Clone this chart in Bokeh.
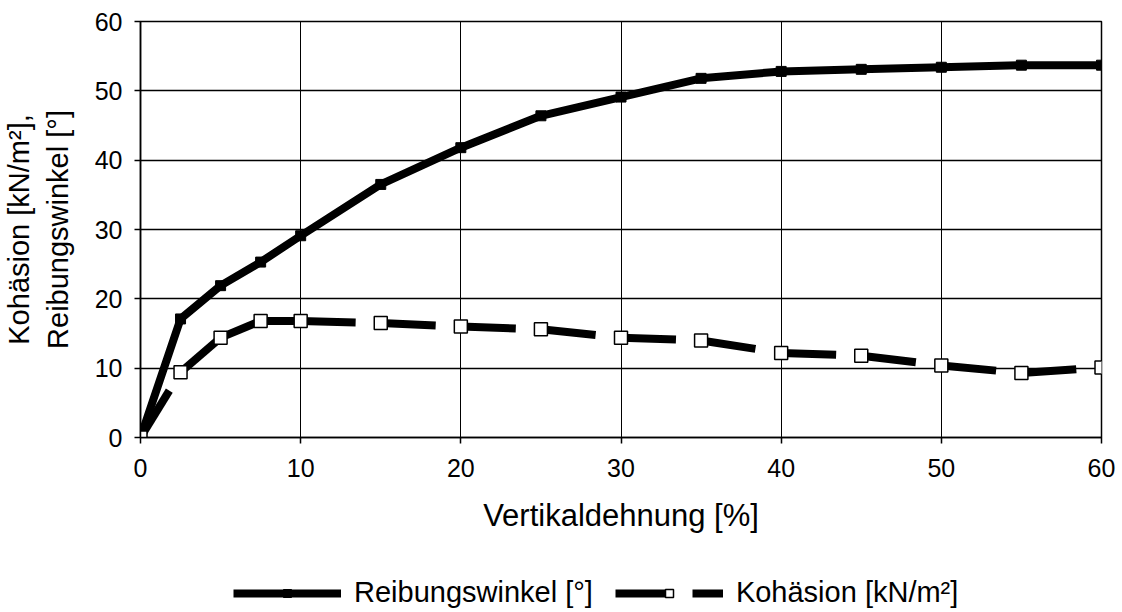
from bokeh.plotting import figure
from bokeh.layouts import column
from bokeh.models import Range1d, Legend, LegendItem, SingleIntervalTicker
from bokeh.embed import file_html
from bokeh.resources import INLINE

# Vertical strain [%] at each test stage
dehnung = [0, 2.5, 5, 7.5, 10, 15, 20, 25, 30, 35, 40, 45, 50, 55, 60]
# Friction angle [°]
reibungswinkel = [0, 17.1, 21.9, 25.3, 29.1, 36.5, 41.8, 46.4, 49.1, 51.8, 52.8, 53.1, 53.4, 53.7, 53.7]
# Cohesion [kN/m²]
kohaesion = [0, 9.4, 14.4, 16.8, 16.8, 16.5, 16.0, 15.6, 14.4, 14.0, 12.2, 11.8, 10.4, 9.3, 10.1]

FONT = "Liberation Sans"

R_STYLE = dict(line_color="black", line_width=8, line_join="round")
R_MARK = dict(marker="square", size=10, fill_color="black", line_color="black")
K_STYLE = dict(line_color="black", line_width=8, line_dash="55 22", line_cap="butt")
K_MARK = dict(marker="square", size=13, fill_color="white", line_color="black", line_width=1.5)

p = figure(
    width=1122, height=560,
    x_range=Range1d(0, 60), y_range=Range1d(0, 60),
    output_backend="svg", toolbar_location=None,
    min_border_left=140, min_border_right=21,
    min_border_top=21, min_border_bottom=123,
    background_fill_color="white", border_fill_color="white",
)

# axes
for ax in (p.xaxis[0], p.yaxis[0]):
    ax.ticker = SingleIntervalTicker(interval=10, num_minor_ticks=0)
    ax.axis_line_color = "black"
    ax.axis_line_width = 1.5
    ax.major_tick_line_color = "black"
    ax.major_tick_line_width = 1.5
    ax.major_tick_out = 6
    ax.major_tick_in = 0
    ax.minor_tick_line_color = None
    ax.major_label_text_font = FONT
    ax.major_label_text_font_size = "25px"
    ax.major_label_text_color = "black"
    ax.axis_label_text_font = FONT
    ax.axis_label_text_font_style = "normal"
    ax.axis_label_text_color = "black"

p.xaxis.major_label_standoff = 15
p.xaxis.axis_label = "Vertikaldehnung [%]"
p.xaxis.axis_label_text_font_size = "31px"
p.xaxis.axis_label_standoff = 18

p.yaxis.major_label_standoff = 12
p.yaxis.axis_label = "Kohäsion [kN/m²],\nReibungswinkel [°]"
p.yaxis.axis_label_text_font_size = "29px"
p.yaxis.axis_label_standoff = 18

# grid and frame
p.ygrid.grid_line_color = "black"
p.ygrid.grid_line_width = 1.5
p.xgrid.grid_line_color = "black"
p.xgrid.grid_line_width = 1
p.outline_line_color = "black"
p.outline_line_width = 1.5

# friction angle: thick solid line with small filled squares
p.line(dehnung, reibungswinkel, **R_STYLE)
p.scatter(dehnung, reibungswinkel, **R_MARK)

# cohesion: long dashes restarting on every segment, open squares
seg_x = [[dehnung[i], dehnung[i + 1]] for i in range(len(dehnung) - 1)]
seg_y = [[kohaesion[i], kohaesion[i + 1]] for i in range(len(kohaesion) - 1)]
p.multi_line(seg_x, seg_y, **K_STYLE)
p.scatter(dehnung, kohaesion, **K_MARK)

# legend strip underneath the chart; its view range lies outside the data,
# so only the legend itself shows
lg = figure(
    width=1122, height=52,
    x_range=Range1d(-20, -10), y_range=Range1d(-20, -10),
    x_axis_type=None, y_axis_type=None,
    output_backend="svg", toolbar_location=None,
    min_border=0, outline_line_color=None,
    background_fill_color="white", border_fill_color="white",
)
lr_line = lg.line(dehnung, reibungswinkel, **R_STYLE)
lr_mark = lg.scatter(dehnung, reibungswinkel, **R_MARK)
lk_line = lg.line(dehnung, kohaesion, **K_STYLE)
lk_mark = lg.scatter(dehnung, kohaesion, **K_MARK)

legend = Legend(
    items=[
        LegendItem(label="Reibungswinkel [°]", renderers=[lr_line, lr_mark]),
        LegendItem(label="Kohäsion [kN/m²]", renderers=[lk_line, lk_mark]),
    ],
    orientation="horizontal",
    location=(93, 3),
    glyph_width=108, glyph_height=20,
    label_standoff=13, spacing=22,
    padding=0, margin=0,
    label_text_font=FONT, label_text_font_size="29px", label_text_color="black",
    border_line_alpha=0, background_fill_alpha=0,
)
lg.add_layout(legend)

layout = column(p, lg, spacing=0)
open("out.html", "w").write(file_html(layout, INLINE))
